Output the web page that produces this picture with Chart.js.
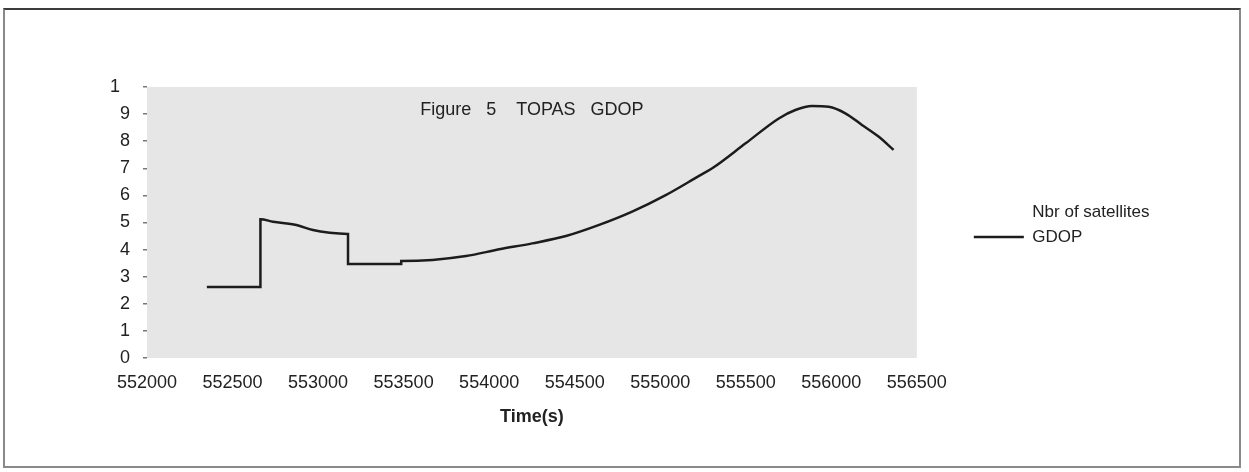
<!DOCTYPE html>
<html>
<head>
<meta charset="utf-8">
<title>Figure 5 TOPAS GDOP</title>
<script src="https://cdn.jsdelivr.net/npm/chart.js@4.4.1/dist/chart.umd.min.js"></script>
<style>
  html, body { margin: 0; padding: 0; background: #fff; }
  #wrap { position: relative; width: 1249px; height: 472px; }
  #frame {
    position: absolute; left: 3px; top: 8px; width: 1234px; height: 456px;
    border: 2px solid #8a8a8a; border-top-color: #3c3c3c; pointer-events: none;
  }
  canvas { position: absolute; left: 0; top: 0; }
</style>
</head>
<body>
<div id="wrap">
  <canvas id="gdopChart" width="1249" height="472"></canvas>
  <div id="frame"></div>
</div>
<script>
// Time of week (s) and GDOP along the TOPAS pass
const timeSec = [552350, 552663, 552663, 552737, 552873, 552970, 553068, 553175, 553175,
  553486, 553486, 553669, 553865, 554059, 554252, 554449, 554643, 554836, 555032,
  555227, 555304, 555499, 555693, 555790, 555887, 555985, 556082, 556179, 556276, 556364];
const gdop = [2.62, 2.62, 5.12, 5.03, 4.91, 4.72, 4.62, 4.58, 3.47,
  3.47, 3.58, 3.62, 3.76, 4.01, 4.23, 4.50, 4.91, 5.40, 6.01,
  6.72, 7.00, 7.92, 8.84, 9.15, 9.30, 9.27, 9.03, 8.60, 8.17, 7.68];
// Satellite count series: listed in the legend, no samples plotted
const nbrSatellites = [];

const seriesNames = ['Nbr of satellites', 'GDOP'];
const xTickLabels = ['552000', '552500', '553000', '553500', '554000',
  '554500', '555000', '555500', '556000', '556500'];
const yTickLabels = ['0', '1', '2', '3', '4', '5', '6', '7', '8', '9', '1  '];
const chartTitle = 'Figure   5    TOPAS   GDOP';
const xAxisTitle = 'Time(s)';

const FONT = '"Liberation Sans", Arial, sans-serif';
const INK = '#222';

// Grey plot-area fill
const plotFill = {
  id: 'plotFill',
  beforeDraw(chart, args, opts) {
    const { ctx, chartArea: { left, top, width, height } } = chart;
    ctx.save();
    ctx.fillStyle = opts.color;
    ctx.fillRect(left, top, width, height);
    ctx.restore();
  }
};

const gdopPoints = timeSec.map((t, i) => ({ x: t, y: gdop[i] }));

new Chart(document.getElementById('gdopChart'), {
  type: 'line',
  data: {
    datasets: [
      {
        label: seriesNames[0],
        data: nbrSatellites,
        borderColor: 'rgba(0,0,0,0)',
        backgroundColor: 'rgba(0,0,0,0)',
        borderWidth: 2,
        pointRadius: 0
      },
      {
        label: seriesNames[1],
        data: gdopPoints,
        borderColor: '#1c1c1c',
        backgroundColor: '#1c1c1c',
        borderWidth: 2.5,
        pointRadius: 0,
        cubicInterpolationMode: 'monotone',
        fill: false
      }
    ]
  },
  plugins: [plotFill],
  options: {
    responsive: false,
    devicePixelRatio: 1,
    animation: false,
    layout: { padding: { left: 0, right: 90, top: 19.2, bottom: 42.2 } },
    scales: {
      x: {
        type: 'linear',
        min: 552000,
        max: 556500,
        grid: { display: false, drawTicks: false },
        border: { display: false },
        ticks: {
          stepSize: 500,
          padding: 14.2,
          color: INK,
          font: { family: FONT, size: 18 },
          maxRotation: 0,
          autoSkip: false,
          callback: (v) => {
            const i = Math.round((v - 552000) / 500);
            return xTickLabels[i] !== undefined ? xTickLabels[i] : '';
          }
        },
        title: {
          display: true,
          text: xAxisTitle,
          color: INK,
          font: { family: FONT, size: 18, weight: 'bold' },
          padding: { top: -1.8, bottom: 2 }
        }
      },
      y: {
        type: 'linear',
        min: 0,
        max: 10,
        afterFit(scale) { scale.width = 147; },
        grid: {
          display: true,
          drawOnChartArea: false,
          drawTicks: true,
          tickLength: 4,
          color: '#777',
          lineWidth: 1.5
        },
        border: { display: false },
        ticks: {
          stepSize: 1,
          padding: 13,
          color: INK,
          font: { family: FONT, size: 18 },
          callback: (v) => (yTickLabels[v] !== undefined ? yTickLabels[v] : '')
        }
      },
      // empty strip between the plot and the legend
      gap: {
        type: 'linear',
        position: 'right',
        display: true,
        afterFit(scale) { scale.width = 49; },
        grid: { display: false },
        border: { display: false },
        ticks: { display: false }
      }
    },
    plugins: {
      plotFill: { color: '#e6e6e6' },
      title: {
        display: true,
        text: chartTitle,
        fullSize: false,
        color: INK,
        font: { family: FONT, size: 18, weight: 'normal' },
        padding: { top: 80, bottom: -33.8 }
      },
      legend: {
        display: true,
        position: 'right',
        labels: {
          usePointStyle: true,
          pointStyle: 'line',
          pointStyleWidth: 50,
          padding: 8,
          color: INK,
          font: { family: FONT, size: 17 }
        }
      },
      tooltip: { enabled: false }
    }
  }
});
</script>
</body>
</html>
